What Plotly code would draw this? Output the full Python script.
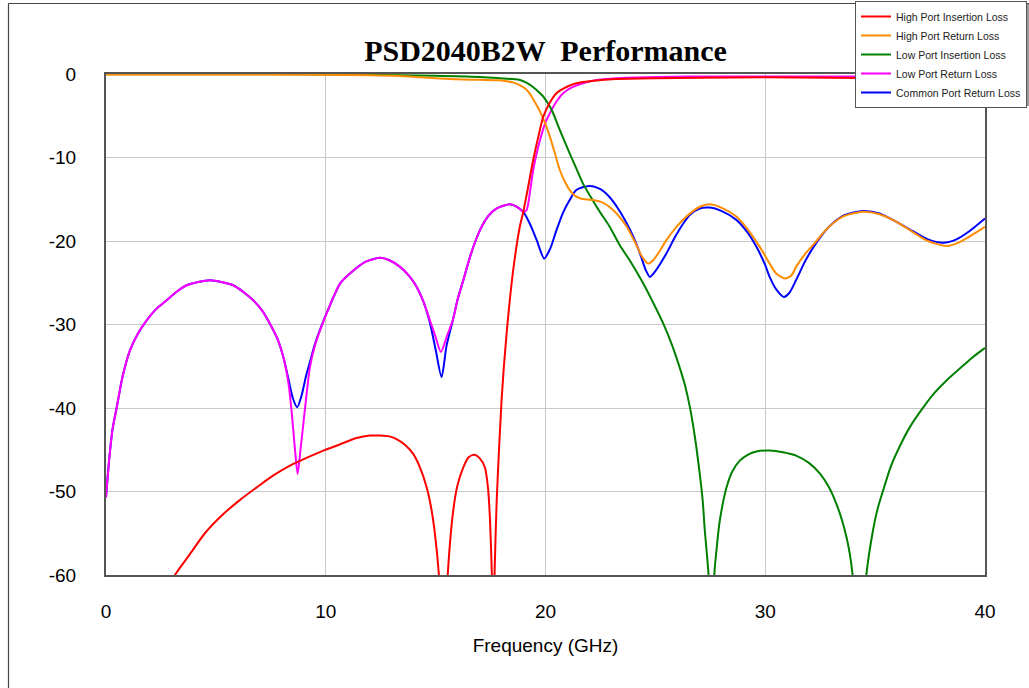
import plotly.graph_objects as go

# ---------------- data ----------------
hi_il_f = [2.9, 3.14, 3.82, 4.5, 5.34, 6.1, 6.86, 7.6, 8.37, 9.1, 9.89, 10.6, 11.4, 12.0, 12.47, 12.9, 13.2,
           13.6, 13.98, 14.3, 14.59, 14.8, 14.97, 15.15, 15.3, 15.42, 15.55, 15.8, 16.0, 16.26, 16.5, 16.76,
           17.0, 17.24, 17.38, 17.47, 17.56, 17.62, 17.68, 17.78, 18.0, 18.23, 18.53, 18.83, 18.99, 19.14,
           19.44, 19.7, 19.9, 20.2, 20.5, 21.0, 21.4, 22.2, 23.2, 25.0, 27.0, 30.0, 33.0, 36.0, 38.0, 40.0]
hi_il_db = [-61.5, -60.0, -57.5, -55.0, -52.7, -51.0, -49.5, -48.1, -46.9, -46.0, -45.1, -44.4, -43.6, -43.3,
            -43.3, -43.4, -43.7, -44.4, -45.5, -47.2, -49.5, -52.0, -55.1, -60.0, -68.0, -68.0, -60.0, -52.3,
            -49.2, -47.1, -45.9, -45.6, -46.0, -47.1, -49.5, -53.1, -60.0, -68.0, -60.0, -51.0, -39.1, -31.1,
            -23.5, -18.3, -16.5, -14.5, -10.3, -7.2, -5.1, -3.4, -2.3, -1.5, -1.1, -0.8, -0.6, -0.5, -0.45,
            -0.4, -0.45, -0.5, -0.5, -0.55]

hi_rl_f = [0.0, 5.0, 10.0, 12.0, 13.4, 15.0, 15.95, 17.0, 17.9, 18.5, 18.8, 19.1, 19.3, 19.5, 19.75, 20.0,
           20.2, 20.45, 20.65, 20.9, 21.1, 21.35, 21.6, 22.17, 22.6, 22.9, 23.3, 23.7, 24.1, 24.4, 24.67,
           24.9, 25.2, 25.5, 26.0, 26.4, 27.02, 27.48, 28.0, 28.7, 29.2, 29.75, 30.2, 30.5, 30.9, 31.2, 31.4,
           31.8, 32.2, 32.9, 33.6, 34.45, 35.2, 35.97, 36.7, 37.4, 38.25, 38.8, 39.4, 40.0]
hi_rl_db = [-0.05, -0.05, -0.1, -0.15, -0.24, -0.5, -0.64, -0.7, -0.75, -1.0, -1.3, -1.8, -2.4, -3.3, -4.5,
            -6.0, -7.5, -9.7, -11.5, -13.0, -13.9, -14.6, -14.9, -15.1, -15.4, -15.9, -16.9, -18.3, -20.3,
            -21.9, -22.7, -22.3, -21.2, -19.9, -18.2, -17.1, -15.9, -15.6, -16.0, -17.1, -18.6, -20.7, -22.7,
            -23.9, -24.5, -24.1, -23.1, -21.6, -20.4, -18.3, -17.0, -16.5, -16.8, -17.7, -18.9, -20.0, -20.6,
            -20.2, -19.3, -18.3]

lo_il_f = [0.0, 5.0, 10.0, 12.0, 15.0, 17.0, 17.9, 18.8, 19.1, 19.4, 19.75, 19.9, 20.2, 20.35, 20.65, 21.1,
           21.4, 21.7, 22.1, 22.47, 22.9, 23.38, 23.9, 24.45, 24.9, 25.36, 25.75, 26.1, 26.35, 26.57, 26.8,
           27.02, 27.15, 27.25, 27.42, 27.5, 27.6, 27.68, 27.8, 27.93, 28.24, 28.5, 28.84, 29.2, 29.6, 30.2,
           30.8, 31.4, 32.0, 32.5, 32.9, 33.24, 33.5, 33.7, 33.85, 33.97, 34.2, 34.4, 34.6, 34.9, 35.1, 35.36,
           35.7, 36.1, 36.6, 37.2, 37.7, 38.25, 38.8, 39.4, 40.0]
lo_il_db = [-0.02, -0.02, -0.05, -0.1, -0.2, -0.35, -0.5, -0.7, -1.0, -1.5, -2.3, -2.7, -3.9, -4.7, -6.7,
            -9.5, -11.3, -13.1, -14.9, -16.5, -18.2, -20.5, -22.6, -25.1, -27.4, -29.9, -32.4, -35.1, -37.3,
            -39.9, -43.5, -47.9, -51.0, -54.7, -60.0, -68.0, -68.0, -60.0, -56.5, -53.5, -49.5, -47.6, -46.3,
            -45.6, -45.2, -45.1, -45.3, -45.7, -46.6, -47.9, -49.5, -51.5, -53.5, -55.5, -57.5, -59.9, -68.0,
            -68.0, -60.0, -54.7, -52.2, -49.9, -47.1, -44.7, -42.2, -39.9, -38.2, -36.7, -35.4, -34.0, -32.8]

lo_rl_f = [0.0, 0.15, 0.3, 0.49, 0.75, 1.09, 1.45, 1.85, 2.3, 2.76, 3.2, 3.67, 4.2, 4.73, 5.25, 5.79, 6.25,
           6.7, 7.1, 7.46, 7.8, 8.07, 8.3, 8.45, 8.6, 8.72, 8.85, 8.98, 9.1, 9.28, 9.5, 9.74, 10.19, 10.65,
           11.1, 11.8, 12.47, 12.9, 13.38, 13.8, 14.14, 14.45, 14.74, 15.0, 15.24, 15.5, 15.8, 16.0, 16.26,
           16.6, 17.02, 17.4, 17.78, 18.38, 18.7, 18.99, 19.14, 19.3, 19.44, 19.6, 19.75, 20.0, 20.2, 20.5,
           20.8, 21.2, 21.7, 22.4, 23.2, 25.0, 28.0, 32.0, 36.0, 40.0]
lo_rl_db = [-50.7, -46.0, -42.5, -39.9, -36.3, -33.1, -31.1, -29.5, -28.1, -27.1, -26.1, -25.3, -24.9, -24.7,
            -24.9, -25.3, -26.1, -27.1, -28.3, -29.9, -31.7, -33.9, -37.0, -40.5, -45.0, -47.9, -45.0, -41.9,
            -39.0, -35.1, -32.6, -30.7, -27.7, -25.1, -23.9, -22.5, -22.0, -22.3, -23.1, -24.2, -25.5, -27.3,
            -29.5, -31.5, -33.3, -31.5, -29.3, -27.0, -24.7, -21.6, -18.7, -17.0, -16.1, -15.6, -15.9, -16.5,
            -16.3, -14.0, -11.5, -9.5, -7.9, -5.8, -4.7, -3.3, -2.3, -1.6, -1.1, -0.7, -0.5, -0.35, -0.3,
            -0.3, -0.3, -0.3]

com_rl_f = [0.0, 0.15, 0.3, 0.49, 0.75, 1.09, 1.45, 1.85, 2.3, 2.76, 3.2, 3.67, 4.2, 4.73, 5.25, 5.79, 6.25,
            6.7, 7.1, 7.46, 7.8, 8.07, 8.3, 8.5, 8.7, 8.9, 9.1, 9.28, 9.5, 9.74, 10.19, 10.65, 11.1, 11.8,
            12.47, 12.9, 13.38, 13.8, 14.14, 14.45, 14.74, 15.0, 15.27, 15.5, 15.8, 16.0, 16.26, 16.6, 17.02,
            17.4, 17.78, 18.38, 18.7, 18.99, 19.3, 19.6, 19.94, 20.2, 20.5, 20.8, 21.1, 21.4, 22.0, 22.5, 22.9,
            23.3, 23.7, 24.0, 24.3, 24.55, 24.75, 25.0, 25.5, 25.9, 26.27, 26.6, 27.02, 27.48, 28.0, 28.7,
            29.2, 29.6, 30.0, 30.2, 30.5, 30.85, 31.1, 31.4, 31.8, 32.2, 32.9, 33.6, 34.45, 35.2, 35.97, 36.7,
            37.4, 38.1, 38.7, 39.3, 40.0]
com_rl_db = [-50.7, -46.0, -42.5, -39.9, -36.3, -33.1, -31.1, -29.5, -28.1, -27.1, -26.1, -25.3, -24.9, -24.7,
             -24.9, -25.3, -26.1, -27.1, -28.3, -29.9, -31.7, -33.9, -36.5, -38.8, -39.9, -38.5, -36.2, -34.5,
             -32.4, -30.6, -27.7, -25.1, -23.9, -22.5, -22.0, -22.3, -23.1, -24.2, -25.5, -27.3, -29.8, -33.0,
             -36.3, -32.5, -29.3, -27.0, -24.7, -21.6, -18.7, -17.0, -16.1, -15.6, -15.9, -16.5, -18.0, -19.9,
             -22.1, -21.0, -18.7, -16.6, -15.1, -13.9, -13.4, -13.8, -14.7, -16.1, -17.9, -19.5, -21.5, -23.4,
             -24.3, -23.6, -21.5, -19.5, -17.9, -16.8, -16.1, -16.0, -16.4, -17.5, -19.0, -20.7, -22.9, -24.3,
             -25.8, -26.7, -26.2, -24.7, -22.5, -20.7, -18.3, -16.9, -16.4, -16.7, -17.7, -18.8, -19.8, -20.2,
             -19.8, -18.8, -17.3]

series_names = ["High Port Insertion Loss", "High Port Return Loss", "Low Port Insertion Loss",
                "Low Port Return Loss", "Common Port Return Loss"]
series_colors = ["#ff0000", "#ff8c00", "#008000", "#ff00ff", "#0000ff"]
series_x = [hi_il_f, hi_rl_f, lo_il_f, lo_rl_f, com_rl_f]
series_y = [hi_il_db, hi_rl_db, lo_il_db, lo_rl_db, com_rl_db]

x_ticks = [0, 10, 20, 30, 40]
x_tick_text = ["0", "10", "20", "30", "40"]
y_ticks = [0, -10, -20, -30, -40, -50, -60]
y_tick_text = ["0", "-10", "-20", "-30", "-40", "-50", "-60"]

# ---------------- figure ----------------
W, H = 1029, 688
L, R, T, B = 106, 985, 74, 575

fig = go.Figure()
# draw in reverse so the first series sits on top
for i in reversed(range(len(series_names))):
    fig.add_trace(go.Scatter(x=series_x[i], y=series_y[i], mode="lines", name=series_names[i],
                             line=dict(color=series_colors[i], width=2, shape="spline", smoothing=0.7)))

def px_to_paper_x(px):
    return (px - L) / (R - L)

def py_to_paper_y(py):
    return (B - py) / (B - T)

fig.update_layout(
    width=W, height=H,
    margin=dict(l=L, r=W - R, t=T, b=H - B, pad=0, autoexpand=False),
    paper_bgcolor="white", plot_bgcolor="white",
    font=dict(family="Liberation Sans, Arial, sans-serif", color="black"),
    title=dict(text="<b>PSD2040B2W  Performance</b>",
               font=dict(family="Liberation Serif, Times New Roman, serif", size=30, color="black"),
               x=0.5, xref="paper", xanchor="center", y=1 - 50 / H, yref="container", yanchor="middle"),
    showlegend=True,
    legend=dict(traceorder="reversed", xref="container", yref="container",
                x=1027 / W, xanchor="right", y=1 - 1 / H, yanchor="top",
                bgcolor="white", bordercolor="#555", borderwidth=1,
                font=dict(size=10.5, color="#222"), itemwidth=30, tracegroupgap=0),
)

fig.update_xaxes(range=[0, 40], tickvals=x_ticks, ticktext=x_tick_text, showgrid=True,
                 gridcolor="#c8c8c8", gridwidth=1, zeroline=False, showline=True, linecolor="#555",
                 linewidth=2, mirror=True, ticks="", tickfont=dict(size=19), ticklabelstandoff=18,
                 automargin=False,
                 title=dict(text="Frequency (GHz)", font=dict(size=19), standoff=18))
fig.update_yaxes(range=[-60, 0], tickvals=y_ticks, ticktext=y_tick_text, showgrid=True,
                 gridcolor="#c8c8c8", gridwidth=1, zeroline=False, showline=True, linecolor="#555",
                 linewidth=2, mirror=True, ticks="", tickfont=dict(size=19), ticklabelstandoff=24,
                 automargin=False)

# outer chart frame (left and top edges visible in the window)
fig.add_shape(type="line", xref="paper", yref="paper", x0=px_to_paper_x(8.5), x1=px_to_paper_x(8.5),
              y0=py_to_paper_y(3.5), y1=py_to_paper_y(700), line=dict(color="#444", width=1.2))
fig.add_shape(type="line", xref="paper", yref="paper", x0=px_to_paper_x(8.5), x1=px_to_paper_x(1029),
              y0=py_to_paper_y(3.5), y1=py_to_paper_y(3.5), line=dict(color="#444", width=1.2))
# legend drop shadow
fig.add_shape(type="rect", xref="paper", yref="paper", x0=px_to_paper_x(1027), x1=px_to_paper_x(1029),
              y0=py_to_paper_y(106), y1=py_to_paper_y(4), fillcolor="#999", line=dict(width=0))

# remove the browser's default page margin so the figure sits at the window's corner
fig.write_html("out.html", config={"displayModeBar": False},
               post_script="document.body.style.margin='0';")
